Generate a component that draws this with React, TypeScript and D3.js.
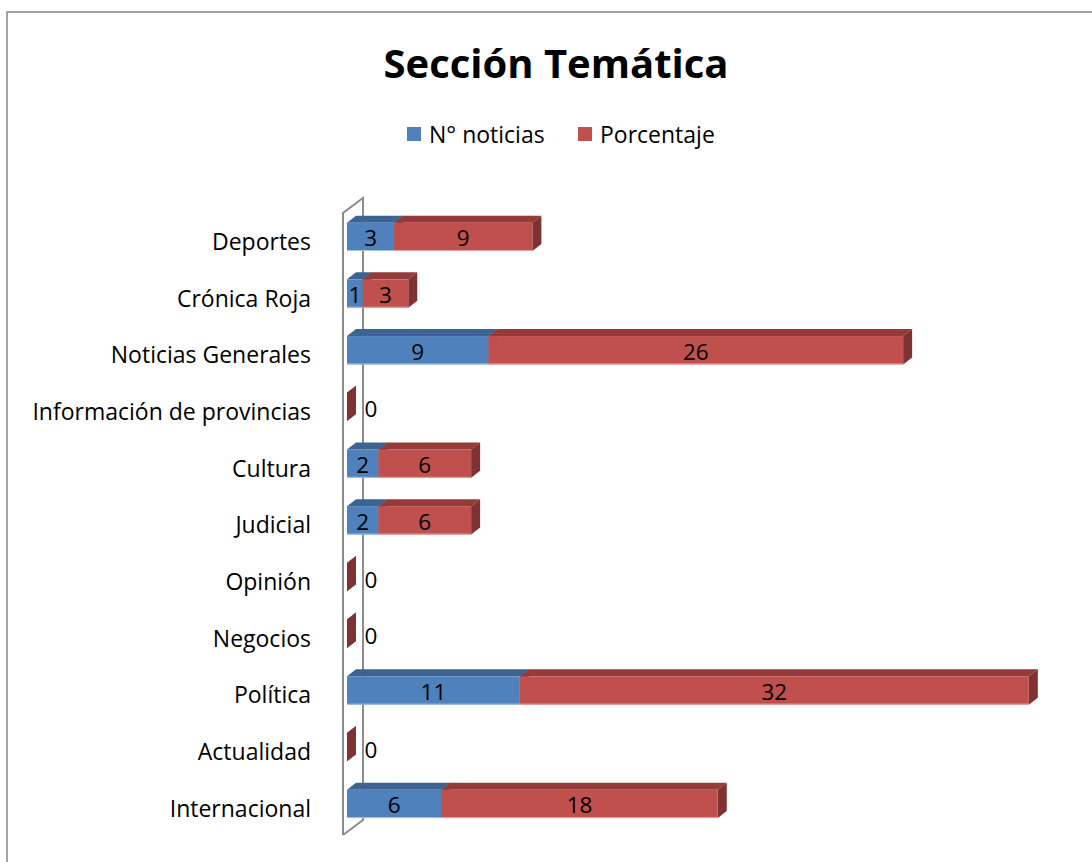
import * as d3 from "d3"
import React from "react"

const categories = [
  "Deportes",
  "Crónica Roja",
  "Noticias Generales",
  "Información de provincias",
  "Cultura",
  "Judicial",
  "Opinión",
  "Negocios",
  "Política",
  "Actualidad",
  "Internacional",
]
const noticias = [3, 1, 9, 0, 2, 2, 0, 0, 11, 0, 6]
const porcentaje = [8.8, 2.9, 26.4, 0, 5.9, 5.9, 0, 0, 32.4, 0, 17.6]
const seriesNames = ["N° noticias", "Porcentaje"]

const W = 1092
const H = 862
const FONT = "'Open Sans', 'Noto Sans', sans-serif"

// front / top / side shades for each series
const colors = [
  { front: "#4F81BD", top: "#3D6491", side: "#34567D", edge: "#A9C1E0" },
  { front: "#C0504D", top: "#943B39", side: "#7E3231", edge: "#E3A3A1" },
]

const App = () => {
  const rows = categories.map((c, i) => ({ cat: c, a: noticias[i], b: porcentaje[i] }))
  const stack = d3.stack<any>().keys(["a", "b"])(rows)

  const x = d3.scaleLinear([0, 45], [347, 347 + 45 * 15.71])
  const y = d3.scaleBand(categories, [194.3, 846.4]).padding(0.5)
  const bw = y.bandwidth()
  const dx = 9, dy = -7
  const fmt = d3.format(".0f")

  const [y0, y1] = y.range()
  const wx = x(0) - 4
  const wallTop = y0 + 18.7, wallBot = y1 - 11.4
  const wdx = 20, wdy = -15

  return (
    <svg width={W} height={H} style={{ position: "absolute", left: 0, top: 0, background: "#fff" }}
      fontFamily={FONT}>
      <rect x={7} y={12} width={W} height={H} fill="#fff" stroke="#868686" strokeWidth={1.5} />

      <text x={556} y={78} textAnchor="middle" fontSize={40} fontWeight="bold" fill="#000">
        Sección Temática
      </text>

      {/* legend */}
      <g>
        <rect x={407} y={127} width={14} height={14} fill={colors[0].front} />
        <text x={429} y={134} dominantBaseline="central" fontSize={23}>{seriesNames[0]}</text>
        <rect x={578} y={127} width={14} height={14} fill={colors[1].front} />
        <text x={600} y={134} dominantBaseline="central" fontSize={23}>{seriesNames[1]}</text>
      </g>

      {/* wall */}
      <path
        d={`M${wx},${wallBot}V${wallTop}L${wx + wdx},${wallTop + wdy}V${wallBot + wdy}L${wx},${wallBot}`}
        fill="none" stroke="#8C8C8C" strokeWidth={2} />

      {/* category labels */}
      {categories.map((c) => (
        <text key={c} x={311} y={(y(c) as number) + bw / 2 + 4} textAnchor="end"
          dominantBaseline="central" fontSize={23}>{c}</text>
      ))}

      {/* bars */}
      {rows.map((r, i) => {
        const top = y(r.cat) as number
        return (
          <g key={r.cat}>
            {stack.map((s, k) => {
              const a = x(s[i][0]), b = x(s[i][1])
              const col = colors[k]
              return (
                <g key={k}>
                  <polygon points={`${a},${top} ${a + dx},${top + dy} ${b + dx},${top + dy} ${b},${top}`} fill={col.top} />
                  <polygon points={`${b},${top} ${b + dx},${top + dy} ${b + dx},${top + bw + dy} ${b},${top + bw}`} fill={col.side} />
                  <rect x={a} y={top} width={b - a} height={bw} fill={col.front} />
                  {b - a > 0 && <line x1={a} x2={b} y1={top + bw - 0.5} y2={top + bw - 0.5} stroke={col.edge} strokeWidth={1} />}
                </g>
              )
            })}
            {stack.map((s, k) => {
              const v = s[i][1] - s[i][0]
              if (v === 0) return null
              const a = x(s[i][0]), b = x(s[i][1])
              return (
                <text key={"l" + k} x={(a + b) / 2} y={top + bw / 2 + 1} textAnchor="middle"
                  dominantBaseline="central" fontSize={22.5}>{fmt(v)}</text>
              )
            })}
            {r.a + r.b === 0 && (
              <text x={x(0) + 24} y={top + bw / 2 + 2} textAnchor="middle" dominantBaseline="central" fontSize={22.5}>0</text>
            )}
          </g>
        )
      })}
    </svg>
  )
}

export default App
